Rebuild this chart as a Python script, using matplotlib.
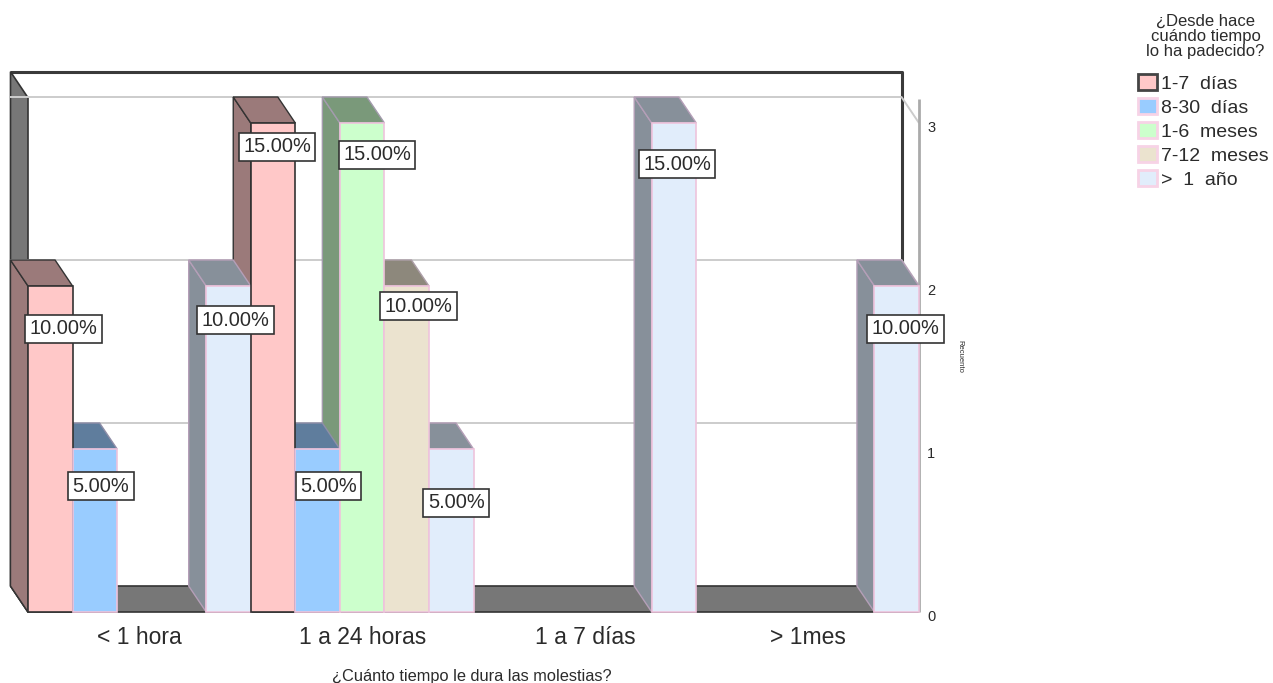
import matplotlib
matplotlib.use("Agg")
import matplotlib.pyplot as plt
from matplotlib.patches import Patch, Polygon
from matplotlib.transforms import ScaledTranslation

plt.rcParams["font.family"] = ["Liberation Sans", "DejaVu Sans"]

# Share of respondents (%) per duration, one list per onset group
CATEGORIES = ["< 1 hora", "1 a 24 horas", "1 a 7 días", "> 1mes"]
SERIES = ["1-7 días", "8-30 días", "1-6 meses", "7-12 meses", "> 1 año"]
PCT_1_7_DIAS = [10, 15, 0, 0]
PCT_8_30_DIAS = [5, 5, 0, 0]
PCT_1_6_MESES = [0, 15, 0, 0]
PCT_7_12_MESES = [0, 10, 0, 0]
PCT_MAS_1_ANO = [10, 5, 15, 10]
PERCENTS = [PCT_1_7_DIAS, PCT_8_30_DIAS, PCT_1_6_MESES, PCT_7_12_MESES, PCT_MAS_1_ANO]
PCT_PER_COUNT = 5  # 20 respondents: each one is 5 %
Y_TICKS = [0, 1, 2, 3]

# Pixel shift of each value label from the top centre of its bar, (group, series) keyed
LABEL_SHIFT = {
    (0, 0): (13, -43), (0, 1): (6, -37), (0, 4): (7, -34),
    (1, 0): (4, -24), (1, 1): (11, -37), (1, 2): (15, -32),
    (1, 3): (12, -20), (1, 4): (5, -54), (2, 4): (3, -41), (3, 4): (9, -43),
}

FRONT = ["#ffc8c8", "#99ccff", "#ccffcc", "#ebe3cf", "#e1edfb"]
SHADE = ["#9b7a7a", "#5f7d9d", "#7a997a", "#8d887c", "#87909a"]
EDGE = ["#333333", "#eec3dc", "#eec3dc", "#eec3dc", "#eec3dc"]
SIDE_EDGE = ["#333333", "#8f8ea8", "#a39bad", "#ad9fa8", "#b59fb8"]
WALL = "#777777"
DARK = "#333333"
GRID = "#cccccc"
TEXT = "#2b2b2b"

W, H = 1273, 683
fig = plt.figure(figsize=(W / 100, H / 100), dpi=100, facecolor="white")
ax = fig.add_axes([28 / W, (H - 612) / H, (919 - 28) / W, (612 - 123) / H])
ax.set_xlim(0, 20)
ax.set_ylim(0, 3)
ax.patch.set_visible(False)
for spine in ax.spines.values():
    spine.set_visible(False)

# Oblique depth of the scene, in data units
DX = -17.5 / 44.55
DY = 26 / 163
WALL_TOP = 3.155


def poly(points, face, edge=None, lw=1.2, z=2):
    ax.add_patch(Polygon(points, closed=True, facecolor=face, edgecolor=edge or face,
                         linewidth=lw, clip_on=False, zorder=z, joinstyle="miter"))


def line(xs, ys, color, lw, z=1.5):
    ax.plot(xs, ys, color=color, lw=lw, clip_on=False, zorder=z, solid_capstyle="butt")


# Back frame, gridlines and value axis
line([DX, 20 + DX, 20 + DX], [WALL_TOP + DY, WALL_TOP + DY, DY], "#3a3a3a", 2.2, z=1)
for c in Y_TICKS[1:]:
    line([DX, 20 + DX, 20], [c + DY, c + DY, c], GRID, 1.4)
line([20, 20], [0, 3.15], "#aaaaaa", 2)

# Floor and left wall
poly([(DX, DY), (20 + DX, DY), (20, 0), (0, 0)], WALL, DARK, z=1.2)
poly([(DX, DY), (DX, WALL_TOP + DY), (0, WALL_TOP), (0, 0)], WALL, DARK, z=1.2)
line([DX, 0], [3 + DY, 3 + DY], GRID, 1.4, z=1.6)

# Slots run left to right inside each group; faces are painted from the far right
bars = []
for g in range(len(CATEGORIES)):
    for s in range(len(SERIES)):
        if PERCENTS[s][g] > 0:
            bars.append((g, s, g * 5 + s, PERCENTS[s][g] / PCT_PER_COUNT))

for g, s, x, h in reversed(bars):
    poly([(x, 0), (x + DX, DY), (x + DX, h + DY), (x, h)], SHADE[s], SIDE_EDGE[s], lw=1, z=2)
    poly([(x, h), (x + DX, h + DY), (x + 1 + DX, h + DY), (x + 1, h)], SHADE[s], SIDE_EDGE[s], lw=1, z=2)

for g, s, x, h in bars:
    poly([(x, 0), (x + 1, 0), (x + 1, h), (x, h)], FRONT[s], EDGE[s], z=3)

for g, s, x, h in bars:
    ax.annotate(f"{PERCENTS[s][g]:.2f}%", xy=(x + 0.5, h),
                xytext=LABEL_SHIFT[(g, s)], textcoords="offset pixels",
                ha="center", va="center", fontsize=14.4, color=TEXT, zorder=5,
                annotation_clip=False,
                bbox=dict(boxstyle="square,pad=0.22", fc="white", ec="#333333", lw=1.2))

# Axes furniture
ax.set_xticks([g * 5 + 2.5 for g in range(len(CATEGORIES))], CATEGORIES,
              fontsize=16.5, color=TEXT)
ax.yaxis.tick_right()
ax.set_yticks(Y_TICKS, [str(t) for t in Y_TICKS], fontsize=10.5, color=TEXT)
ax.tick_params(axis="both", length=0)
ax.tick_params(axis="x", pad=10)
ax.tick_params(axis="y", pad=6)
lower_ticks = ScaledTranslation(0, -3.5 / 100, fig.dpi_scale_trans)
for tick_label in ax.get_yticklabels():
    tick_label.set_transform(tick_label.get_transform() + lower_ticks)
fig.text(472 / W, 1 - 676 / H, "¿Cuánto tiempo le dura las molestias?", fontsize=11.8,
         color=TEXT, ha="center", va="center")
fig.text(960 / W, 1 - 356 / H, "Recuento", fontsize=5.5, rotation=270,
         color=TEXT, ha="center", va="center")

# Legend
fig.text(1205.5 / W, 1 - 36.5 / H, "¿Desde hace\ncuándo tiempo\nlo ha padecido?", fontsize=12,
         color=TEXT, ha="center", va="center", linespacing=1.02)
handles = [Patch(facecolor=FRONT[i], edgecolor="#444444" if i == 0 else "#f7d3e6",
                 linewidth=2 if i == 0 else 2) for i in range(len(SERIES))]
labels = [name.replace(" ", "  ") for name in SERIES]
fig.legend(handles, labels, loc="upper left", bbox_to_anchor=(1134 / W, 1 - 70 / H),
           frameon=False, fontsize=14, labelcolor=TEXT, handlelength=1.0,
           handleheight=0.9, handletextpad=0.2, labelspacing=0.27,
           borderpad=0.2, borderaxespad=0)

fig.savefig("out.png", dpi=100, facecolor="white")
